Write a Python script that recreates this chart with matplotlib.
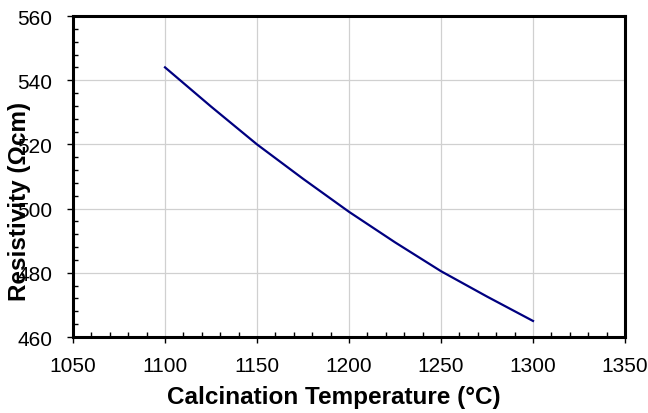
import matplotlib
matplotlib.use("Agg")
import matplotlib.pyplot as plt
from matplotlib.ticker import MultipleLocator

# values
temperature = [1100, 1125, 1150, 1175, 1200, 1225, 1250, 1275, 1300]
resistivity = [544.0, 531.8, 520.0, 509.3, 499.0, 489.5, 480.5, 472.6, 465.0]

x_ticks = [1050, 1100, 1150, 1200, 1250, 1300, 1350]
y_ticks = [460, 480, 500, 520, 540, 560]

plt.rcParams['font.family'] = ['Liberation Sans', 'DejaVu Sans']

fig = plt.figure(figsize=(6.48, 4.14), dpi=100)
ax = fig.add_axes([73 / 648, 1 - 338 / 414, 552 / 648, 321 / 414])

ax.plot(temperature, resistivity, color='#000080', lw=1.6)

ax.set_xlim(1050, 1350)
ax.set_ylim(460, 560)
ax.set_xticks(x_ticks)
ax.set_yticks(y_ticks)
ax.xaxis.set_minor_locator(MultipleLocator(10))
ax.yaxis.set_minor_locator(MultipleLocator(4))

ax.grid(True, which='major', color='#d0d0d0', lw=0.9)
ax.set_axisbelow(True)

for s in ax.spines.values():
    s.set_linewidth(2.2)
    s.set_color('black')

ax.tick_params(which='major', direction='out', length=4, width=1, labelsize=15, pad=9.5)
ax.tick_params(which='minor', direction='in', length=3.5, width=1)
ax.tick_params(axis='y', which='major', pad=11)

fig.text(334 / 648, 1 - 398 / 414, 'Calcination Temperature (°C)',
         ha='center', va='center', fontsize=17.5, fontweight='bold')
fig.text(20 / 648, 1 - 201 / 414, 'Resistivity (Ωcm)', rotation=90,
         ha='center', va='center', fontsize=17.5, fontweight='bold')

fig.savefig('out.png', dpi=100)
